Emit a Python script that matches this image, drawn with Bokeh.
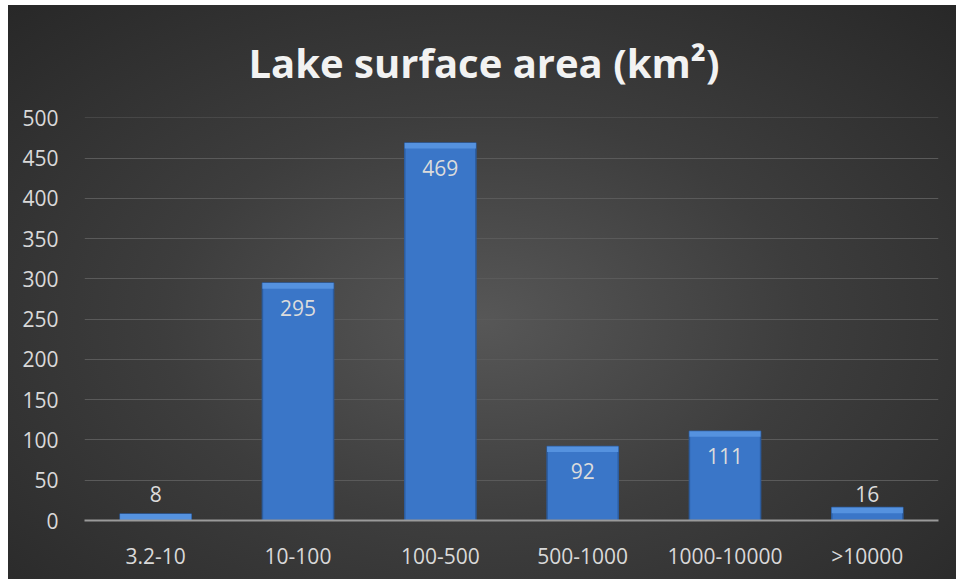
from bokeh.plotting import figure
from bokeh.models import ColumnDataSource, FixedTicker, Range1d
from bokeh.core.properties import value
from bokeh.embed import file_html
from bokeh.resources import INLINE

categories = ["3.2-10", "10-100", "100-500", "500-1000", "1000-10000", ">10000"]
counts = [8, 295, 469, 92, 111, 16]
y_ticks = [0, 50, 100, 150, 200, 250, 300, 350, 400, 450, 500]
title_text = "Lake surface area (km\u00b2)"

FONT = "Open Sans"
W, H = 948, 574

p = figure(width=W, height=H, x_range=categories, y_range=Range1d(0, 500.6),
           output_backend="svg", toolbar_location=None, title=title_text,
           min_border_left=76, min_border_right=18, min_border_top=112, min_border_bottom=59)
p.styles = {"margin": "5px 0px 0px 8px",
            "background": "radial-gradient(ellipse 75% 80% at 50% 55%, #575757 0%, #3d3d3d 45%, #262626 100%)"}
p.border_fill_color = None
p.background_fill_color = None
p.outline_line_color = None

p.title.align = "left"
p.title.offset = 164
p.title.standoff = 55
p.title.text_color = "#F2F2F2"
p.title.text_font = FONT
p.title.text_font_size = "40px"
p.title.text_font_style = "bold"

src = ColumnDataSource(dict(
    cat=categories,
    val=counts,
    band_bottom=[max(v - 7, 0) for v in counts],
    lab=[str(v) for v in counts],
    lab_y=[v if v > 50 else 33 for v in counts],
    lab_off=[25 if v > 50 else 0 for v in counts],
))

p.vbar(x="cat", top="val", bottom=0, width=0.5, source=src,
       fill_color="#3A76C8", line_color="#2C5C9E", line_width=1.5)
p.vbar(x="cat", top="val", bottom="band_bottom", width=0.5, source=src,
       fill_color="#5592DF", line_color=None)
p.text(x="cat", y="lab_y", text="lab", y_offset="lab_off", source=src,
       text_align="center", text_baseline="middle", text_color="#DCDCDC",
       text_font=value(FONT), text_font_size="21px")

# axes
p.yaxis.ticker = FixedTicker(ticks=y_ticks)
p.yaxis.axis_line_color = None
p.yaxis.major_tick_line_color = None
p.yaxis.minor_tick_line_color = None
p.yaxis.major_label_standoff = 20
p.xaxis.axis_line_color = "#9A9A9A"
p.xaxis.axis_line_width = 2
p.xaxis.major_tick_line_color = None
p.xaxis.minor_tick_line_color = None
p.xaxis.major_label_standoff = 15
for ax in (p.xaxis, p.yaxis):
    ax.major_label_text_color = "#D9D9D9"
    ax.major_label_text_font = FONT
    ax.major_label_text_font_size = "21px"

p.xgrid.grid_line_color = None
p.ygrid.grid_line_color = "#5A5A5A"
p.ygrid.grid_line_width = 1

open("out.html", "w").write(file_html(p, INLINE))
